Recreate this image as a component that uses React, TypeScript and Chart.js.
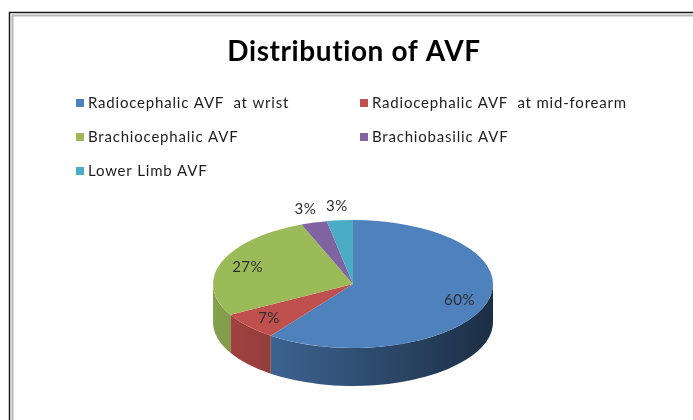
import React, { useEffect, useRef } from "react";
import { Chart, registerables } from "chart.js";

Chart.register(...registerables);

const chartTitle = "Distribution of AVF";
const categories = [
  "Radiocephalic AVF  at wrist",
  "Radiocephalic AVF  at mid-forearm",
  "Brachiocephalic AVF",
  "Brachiobasilic AVF",
  "Lower Limb AVF",
];
const values = [60, 7, 27, 3, 3];
const valueLabels = ["60%", "7%", "27%", "3%", "3%"];
const faceColors = ["#4F81BD", "#C0504D", "#9BBB59", "#8064A2", "#4BACC6"];

function shade(hex: string, f: number): string {
  const n = parseInt(hex.slice(1), 16);
  const r = Math.round(((n >> 16) & 255) * f);
  const g = Math.round(((n >> 8) & 255) * f);
  const b = Math.round((n & 255) * f);
  return `rgb(${r},${g},${b})`;
}

const SCREEN_CY = 284;
const TILT = 0.457;
const DEPTH = 38;

const pie3d = {
  id: "pie3d",
  beforeDraw(chart: any) {
    const ctx = chart.ctx;
    ctx.save();
    ctx.fillStyle = "#ffffff";
    ctx.fillRect(0, 0, chart.width, chart.height);
    // frame
    ctx.strokeStyle = "#1a1a1a";
    ctx.lineWidth = 1.5;
    ctx.beginPath();
    ctx.moveTo(9.5, 420);
    ctx.lineTo(9.5, 12.5);
    ctx.lineTo(693, 12.5);
    ctx.stroke();
    ctx.strokeStyle = "#b8b8b8";
    ctx.lineWidth = 2;
    ctx.beginPath();
    ctx.moveTo(12.5, 420);
    ctx.lineTo(12.5, 15.5);
    ctx.lineTo(693, 15.5);
    ctx.stroke();
    // title
    ctx.fillStyle = "#000000";
    ctx.font = "bold 28px Lato, 'DejaVu Sans', sans-serif";
    (ctx as any).letterSpacing = "0.6px";
    ctx.textAlign = "center";
    ctx.textBaseline = "alphabetic";
    ctx.fillText(chartTitle, 354, 61);
    // legend
    const colX = [76, 360];
    const rowY = [103, 137, 171];
    ctx.font = "15px Lato, 'DejaVu Sans', sans-serif";
    (ctx as any).letterSpacing = "0.8px";
    ctx.textAlign = "left";
    ctx.textBaseline = "middle";
    chart.data.labels.forEach((lab: string, i: number) => {
      const x = colX[i % 2];
      const y = rowY[Math.floor(i / 2)];
      ctx.fillStyle = faceColors[i];
      ctx.fillRect(x, y - 4, 8, 8);
      ctx.fillStyle = "#1e1e1e";
      ctx.fillText(lab, x + 12, y);
    });
    (ctx as any).letterSpacing = "0px";
    ctx.restore();
  },
  beforeDatasetsDraw(chart: any) {
    const ctx = chart.ctx;
    const arcs = chart.getDatasetMeta(0).data;
    if (!arcs.length) return;
    const cx = arcs[0].x;
    const cy = arcs[0].y;
    const r = arcs[0].outerRadius;
    const ry = r * TILT;
    ctx.save();
    // side walls (front half only)
    arcs.forEach((arc: any, i: number) => {
      const a1 = Math.max(arc.startAngle, 0);
      const a2 = Math.min(arc.endAngle, Math.PI);
      if (a2 <= a1) return;
      const g = ctx.createLinearGradient(cx - r, 0, cx + r, 0);
      g.addColorStop(0, shade(faceColors[i], 0.86));
      g.addColorStop(0.5, shade(faceColors[i], 0.62));
      g.addColorStop(1, shade(faceColors[i], 0.36));
      ctx.fillStyle = g;
      ctx.beginPath();
      ctx.ellipse(cx, SCREEN_CY, r, ry, 0, a1, a2, false);
      ctx.ellipse(cx, SCREEN_CY + DEPTH, r, ry, 0, a2, a1, true);
      ctx.closePath();
      ctx.fill();
    });
    // squash the top face
    ctx.translate(0, SCREEN_CY);
    ctx.scale(1, TILT);
    ctx.translate(0, -cy);
  },
  afterDatasetsDraw(chart: any) {
    const ctx = chart.ctx;
    ctx.restore();
    const arcs = chart.getDatasetMeta(0).data;
    if (!arcs.length) return;
    const cx = arcs[0].x;
    const r = arcs[0].outerRadius;
    ctx.save();
    ctx.font = "15px Lato, 'DejaVu Sans', sans-serif";
    (ctx as any).letterSpacing = "0.5px";
    ctx.fillStyle = "#2e2e2e";
    ctx.textAlign = "center";
    ctx.textBaseline = "middle";
    arcs.forEach((arc: any, i: number) => {
      const mid = (arc.startAngle + arc.endAngle) / 2;
      const frac = values[i] < 5 ? 1.22 : 0.8;
      const px = cx + Math.cos(mid) * r * frac;
      const py = SCREEN_CY + Math.sin(mid) * r * frac * TILT;
      ctx.fillText(valueLabels[i], px, py);
    });
    (ctx as any).letterSpacing = "0px";
    ctx.restore();
  },
};

export default function App() {
  const ref = useRef<HTMLCanvasElement | null>(null);
  useEffect(() => {
    if (!ref.current) return;
    const chart = new Chart(ref.current, {
      type: "pie",
      data: {
        labels: categories,
        datasets: [
          {
            data: values,
            backgroundColor: faceColors,
            borderWidth: 0,
          },
        ],
      },
      options: {
        animation: false,
        responsive: false,
        events: [],
        layout: { padding: { left: 213, right: 200, top: 70, bottom: 70 } },
        plugins: {
          legend: { display: false },
          title: { display: false },
          tooltip: { enabled: false },
        },
      },
      plugins: [pie3d],
    });
    return () => chart.destroy();
  }, []);
  return (
    <div style={{ position: "absolute", left: 0, top: 0, width: 693, height: 420 }}>
      <canvas ref={ref} width={693} height={420} style={{ display: "block" }} />
    </div>
  );
}
